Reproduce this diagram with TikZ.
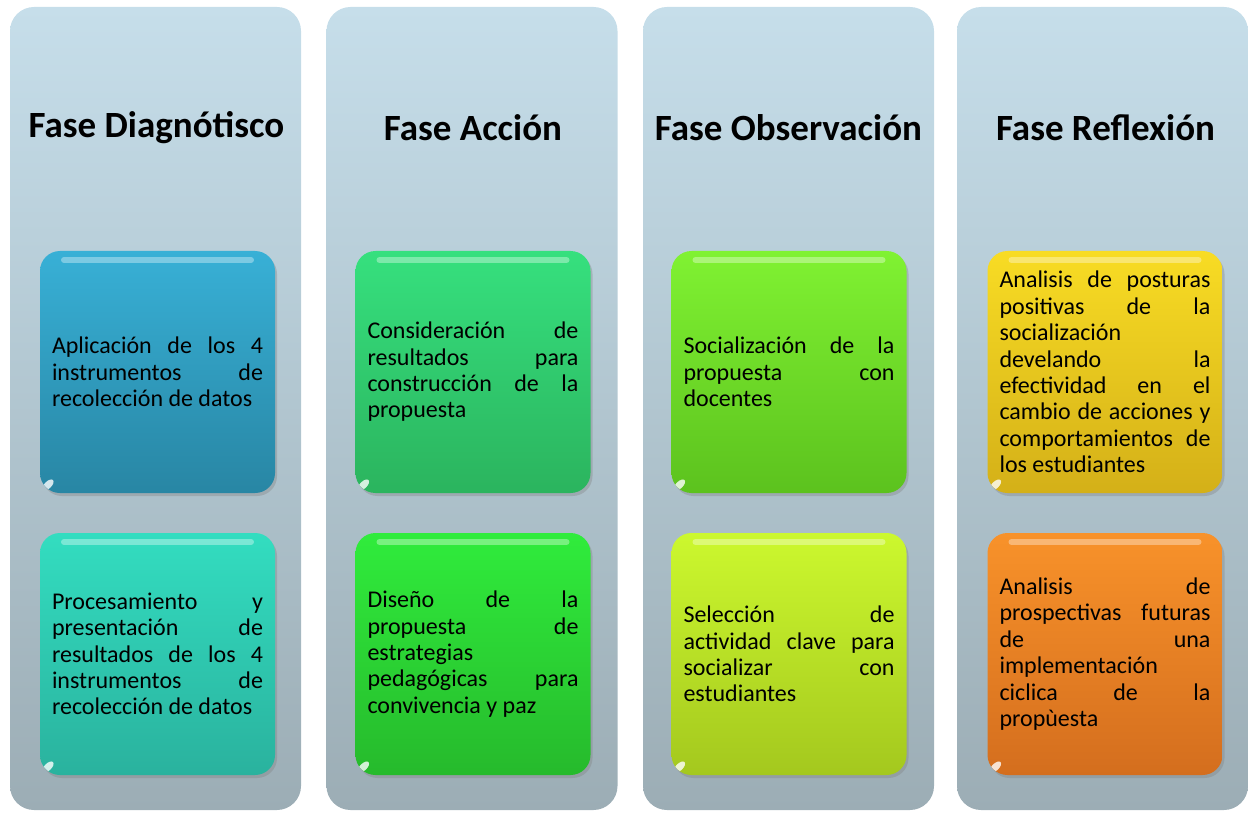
\documentclass[tikz,border=0pt]{standalone}
\usepackage{fontspec}
\setmainfont{Carlito}
\usetikzlibrary{shadows}

\definecolor{faseTop}{HTML}{C6DEEA}
\definecolor{faseBot}{HTML}{9CADB5}
\definecolor{diagUnoTop}{HTML}{38B0D6}
\definecolor{diagUnoBot}{HTML}{2886A4}
\definecolor{diagDosTop}{HTML}{33DDC0}
\definecolor{diagDosBot}{HTML}{2AB29E}
\definecolor{accUnoTop}{HTML}{36E07E}
\definecolor{accUnoBot}{HTML}{2BB45E}
\definecolor{accDosTop}{HTML}{30EC3C}
\definecolor{accDosBot}{HTML}{26BA2C}
\definecolor{obsUnoTop}{HTML}{80F232}
\definecolor{obsUnoBot}{HTML}{5CC21E}
\definecolor{obsDosTop}{HTML}{CCF82E}
\definecolor{obsDosBot}{HTML}{A4C81E}
\definecolor{refUnoTop}{HTML}{F8DC24}
\definecolor{refUnoBot}{HTML}{D4B018}
\definecolor{refDosTop}{HTML}{F8922A}
\definecolor{refDosBot}{HTML}{D46E1E}

\newcommand\cajafont{\fontsize{24}{26.4}\selectfont\hyphenpenalty=10000\relax\tolerance=10000\relax}

\begin{document}
\begin{tikzpicture}[x=1pt,y=-1pt,
		fase/.style={rounded corners=24pt,top color=faseTop,bottom color=faseBot,
			minimum width=291pt,minimum height=803pt,inner sep=0pt},
		titulo/.style={font=\bfseries\fontsize{37}{40}\selectfont},
		caja/.style={rounded corners=20pt,minimum width=235pt,minimum height=242pt,
			text width=211pt,inner xsep=12pt,inner ysep=0pt,align=justify,font=\cajafont,
			drop shadow={opacity=.35,shadow xshift=2pt,shadow yshift=-3pt},
			path picture={
				\draw[white,opacity=.35,line width=6pt,line cap=round]
					([xshift=24pt,yshift=-9pt]path picture bounding box.north west) --
					([xshift=-24pt,yshift=-9pt]path picture bounding box.north east);
				\fill[white,opacity=.8]
					([xshift=8pt,yshift=8pt]path picture bounding box.south west)
					circle [x radius=7pt,y radius=3.5pt,rotate=45];
			}},
		relleno/.style={top color=#1Top,bottom color=#1Bot}]
		\useasboundingbox (0,0) rectangle (1248,813);
		
		\node[fase] (colDiag) at (155.5,408.5) {};
		\node[fase] (colAcc) at (472,408.5) {};
		\node[fase] (colObs) at (788.5,408.5) {};
		\node[fase] (colRef) at (1102.5,408.5) {};
		
		\node[titulo] (tDiag) at (156.5,128) {Fase Diagnótisco};
		\node[titulo] (tAcc) at (473,128) {Fase Acción};
		\node[titulo] (tObs) at (788.5,128) {Fase Observación};
		\node[titulo] (tRef) at (1105.5,128) {Fase Reflexión};
		
		\node[caja,relleno=diagUno] (diag1) at (157.5,372)
			{Aplicación de los 4\linebreak instrumentos de\linebreak recolección de datos};
		\node[caja,relleno=diagDos] (diag2) at (157.5,654)
			{Procesamiento y\linebreak presentación de\linebreak resultados de los 4\linebreak instrumentos de\linebreak recolección de datos};
		\node[caja,relleno=accUno] (acc1) at (473,372)
			{Consideración de\linebreak resultados para\linebreak construcción de la\linebreak propuesta};
		\node[caja,relleno=accDos] (acc2) at (473,654)
			{Diseño de la\linebreak propuesta de\linebreak estrategias\linebreak pedagógicas para\linebreak convivencia y paz};
		\node[caja,relleno=obsUno] (obs1) at (789,372)
			{Socialización de la\linebreak propuesta con\linebreak docentes};
		\node[caja,relleno=obsDos] (obs2) at (789,654)
			{Selección de\linebreak actividad clave para\linebreak socializar con\linebreak estudiantes};
		\node[caja,relleno=refUno] (ref1) at (1105,372)
			{Analisis de posturas\linebreak positivas de la\linebreak socialización\linebreak develando la\linebreak efectividad en el\linebreak cambio de acciones y\linebreak comportamientos de\linebreak los estudiantes};
		\node[caja,relleno=refDos] (ref2) at (1105,654)
			{Analisis de\linebreak prospectivas futuras\linebreak de una\linebreak implementación\linebreak ciclica de la\linebreak propùesta};
	\end{tikzpicture}
\end{document}
